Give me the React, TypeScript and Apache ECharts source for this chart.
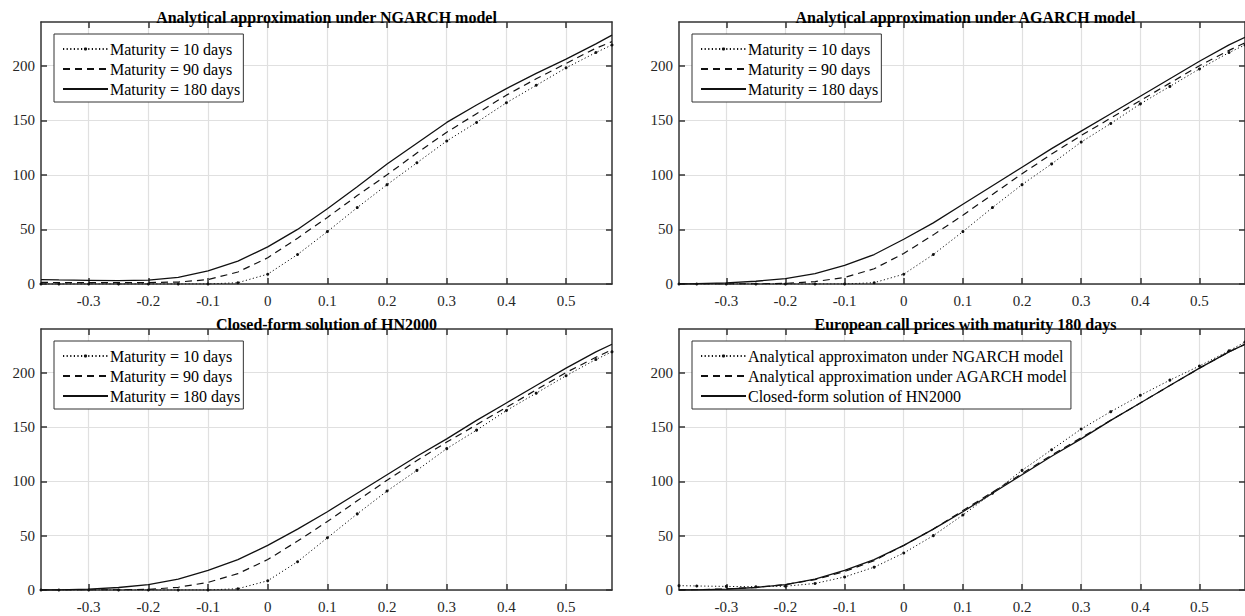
import React, { useEffect, useRef } from "react";
import * as echarts from "echarts";

// ---- data ----
const xs = [-0.38, -0.35, -0.3, -0.25, -0.2, -0.15, -0.1, -0.05, 0, 0.05, 0.1, 0.15, 0.2, 0.25, 0.3, 0.35, 0.4, 0.45, 0.5, 0.55, 0.577];

const ngarch10 = [0, 0, 0, 0, 0, 0, 0, 1.2, 9, 27, 48, 70, 91, 111, 131, 148, 166, 182, 198, 212, 219];
const ngarch90 = [1.5, 1.3, 1.2, 1.2, 1.3, 1.8, 4, 11, 24, 42, 61, 81, 100, 120, 139, 156, 173, 188, 202, 216, 222];
const ngarch180 = [4, 3.7, 3.3, 3, 3.5, 6, 12, 21, 34, 50, 69, 89, 110, 129, 148, 164, 179, 193, 206, 220, 228];

const agarch10 = [0, 0, 0, 0, 0, 0, 0, 1.2, 9, 27, 48, 70, 91, 110, 130, 147, 165, 181, 197, 212, 219];
const agarch90 = [0, 0, 0, 0.1, 0.6, 2.2, 6, 14, 28, 45, 63, 82, 101, 119, 136, 152, 168, 184, 200, 214, 221];
const agarch180 = [0, 0.3, 1, 2.5, 5, 9.5, 17, 27, 41, 56, 73, 90, 107, 124, 140, 156, 172, 188, 204, 219, 226];

const hn10 = [0, 0, 0, 0, 0, 0, 0, 1.2, 8.5, 26, 48, 70, 91, 110, 130, 147, 165, 181, 197, 212, 219];
const hn90 = [0, 0, 0, 0.1, 0.6, 2.5, 7, 15, 28, 45, 63, 82, 101, 119, 136, 152, 168, 184, 200, 214, 221];
const hn180 = [0, 0.2, 0.8, 2.3, 5, 10, 18, 28, 41, 56, 72, 89, 106, 123, 139, 156, 172, 188, 204, 219, 226];

const xTicks = [-0.3, -0.2, -0.1, 0, 0.1, 0.2, 0.3, 0.4, 0.5];
const yTicks = [0, 50, 100, 150, 200];
const xMin = -0.38;
const xMax = 0.577;
const yMin = 0;
const yMax = 240;

const panelTitles = [
  "Analytical approximation under NGARCH model",
  "Analytical approximation under AGARCH model",
  "Closed-form solution of HN2000",
  "European call prices with maturity 180 days",
];
const maturityNames = ["Maturity = 10 days", "Maturity = 90 days", "Maturity = 180 days"];
const compareNames = [
  "Analytical approximaton under NGARCH model",
  "Analytical approximation under AGARCH model",
  "Closed-form solution of HN2000",
];

const panelSeries = [
  [ngarch10, ngarch90, ngarch180],
  [agarch10, agarch90, agarch180],
  [hn10, hn90, hn180],
  [ngarch180, agarch180, hn180],
];

// ---- styles ----
const FONT = "Liberation Serif";
const AXIS_COLOR = "#333333";
const GRID_COLOR = "#e0e0e0";
const LINE_COLOR = "#111111";
const LABEL_COLOR = "#262626";

const grids = [
  { left: 41, top: 22, width: 571, height: 262 },
  { left: 679, top: 22, width: 573, height: 262 },
  { left: 41, top: 329, width: 571, height: 261 },
  { left: 679, top: 329, width: 573, height: 261 },
];

const lineStyles = [
  { type: [1.2, 2.4], width: 1 },
  { type: [7, 5], width: 1.2 },
  { type: "solid", width: 1.3 },
];

function fmtX(v: number) {
  return Math.abs(v) < 1e-9 ? "0" : String(Math.round(v * 10) / 10);
}

export default function App() {
  const ref = useRef<HTMLDivElement>(null);
  useEffect(() => {
    document.body.style.margin = "0";
    if (!ref.current) return;
    const chart = echarts.init(ref.current, undefined, { renderer: "svg" });

    const labelStyle = { color: LABEL_COLOR, fontFamily: FONT, fontSize: 15 };
    const xAxis: any[] = [];
    const yAxis: any[] = [];
    grids.forEach((_, i) => {
      xAxis.push({
        type: "value",
        gridIndex: i,
        min: xMin,
        max: xMax,
        axisLine: { show: true, onZero: false, lineStyle: { color: AXIS_COLOR, width: 1.5 } },
        axisTick: { show: true, inside: true, length: 6, customValues: xTicks, lineStyle: { color: AXIS_COLOR, width: 1.5 } },
        axisLabel: { show: true, customValues: xTicks, formatter: fmtX, margin: 9, ...labelStyle },
        splitLine: { show: true, lineStyle: { color: GRID_COLOR, width: 1.2 } },
      });
      yAxis.push({
        type: "value",
        gridIndex: i,
        min: yMin,
        max: yMax,
        axisLine: { show: true, onZero: false, lineStyle: { color: AXIS_COLOR, width: 1.5 } },
        axisTick: { show: true, inside: true, length: 6, customValues: yTicks, lineStyle: { color: AXIS_COLOR, width: 1.5 } },
        axisLabel: { show: true, customValues: yTicks, margin: 6, ...labelStyle },
        splitLine: { show: true, lineStyle: { color: GRID_COLOR, width: 1.2 } },
      });
    });
    grids.forEach((_, i) => {
      xAxis.push({
        type: "value",
        gridIndex: i,
        position: "top",
        min: xMin,
        max: xMax,
        axisLine: { show: true, onZero: false, lineStyle: { color: AXIS_COLOR, width: 1.5 } },
        axisTick: { show: true, inside: true, length: 6, customValues: xTicks, lineStyle: { color: AXIS_COLOR, width: 1.5 } },
        axisLabel: { show: false },
        splitLine: { show: false },
      });
      yAxis.push({
        type: "value",
        gridIndex: i,
        position: "right",
        min: yMin,
        max: yMax,
        axisLine: { show: true, onZero: false, lineStyle: { color: AXIS_COLOR, width: 1.5 } },
        axisTick: { show: true, inside: true, length: 6, customValues: yTicks, lineStyle: { color: AXIS_COLOR, width: 1.5 } },
        axisLabel: { show: false },
        splitLine: { show: false },
      });
    });

    const series: any[] = [];
    panelSeries.forEach((group, gi) => {
      const names = gi === 3 ? compareNames : maturityNames;
      group.forEach((vals, si) => {
        series.push({
          type: "line",
          name: names[si],
          xAxisIndex: gi,
          yAxisIndex: gi,
          data: xs.map((x, k) => [x, vals[k]]),
          symbol: si === 0 ? "circle" : "none",
          symbolSize: 3,
          showSymbol: si === 0,
          itemStyle: { color: LINE_COLOR },
          lineStyle: { color: LINE_COLOR, ...lineStyles[si] },
          z: 3,
        });
      });
    });

    const titles = grids.map((g, i) => ({
      text: panelTitles[i],
      left: g.left + g.width / 2,
      top: g.top - 13,
      textAlign: "center",
      padding: 0,
      textStyle: { fontFamily: FONT, fontSize: 16, fontWeight: "bold", color: "#000" },
    }));

    const legends = grids.map((g, i) => ({
      left: g.left + 13,
      top: g.top + 12,
      orient: "vertical",
      data: (i === 3 ? compareNames : maturityNames).map((n, k) =>
        k === 0 ? { name: n } : { name: n, itemStyle: { opacity: 0 } }
      ),
      itemWidth: 45,
      itemHeight: 4,
      itemGap: 4,
      padding: [7, 3, 5, 8],
      borderColor: "#333",
      borderWidth: 1,
      borderRadius: 0,
      backgroundColor: "#fff",
      selectedMode: false,
      textStyle: { fontFamily: FONT, fontSize: 16, color: "#000", padding: [0, 0, 0, -3] },
    }));

    chart.setOption({
      animation: false,
      backgroundColor: "#fff",
      textStyle: { fontFamily: FONT },
      title: titles,
      legend: legends,
      grid: grids.map((g) => ({ ...g, containLabel: false })),
      xAxis,
      yAxis,
      series,
    });

    return () => chart.dispose();
  }, []);
  return <div ref={ref} style={{ width: 1245, height: 616 }} />;
}
